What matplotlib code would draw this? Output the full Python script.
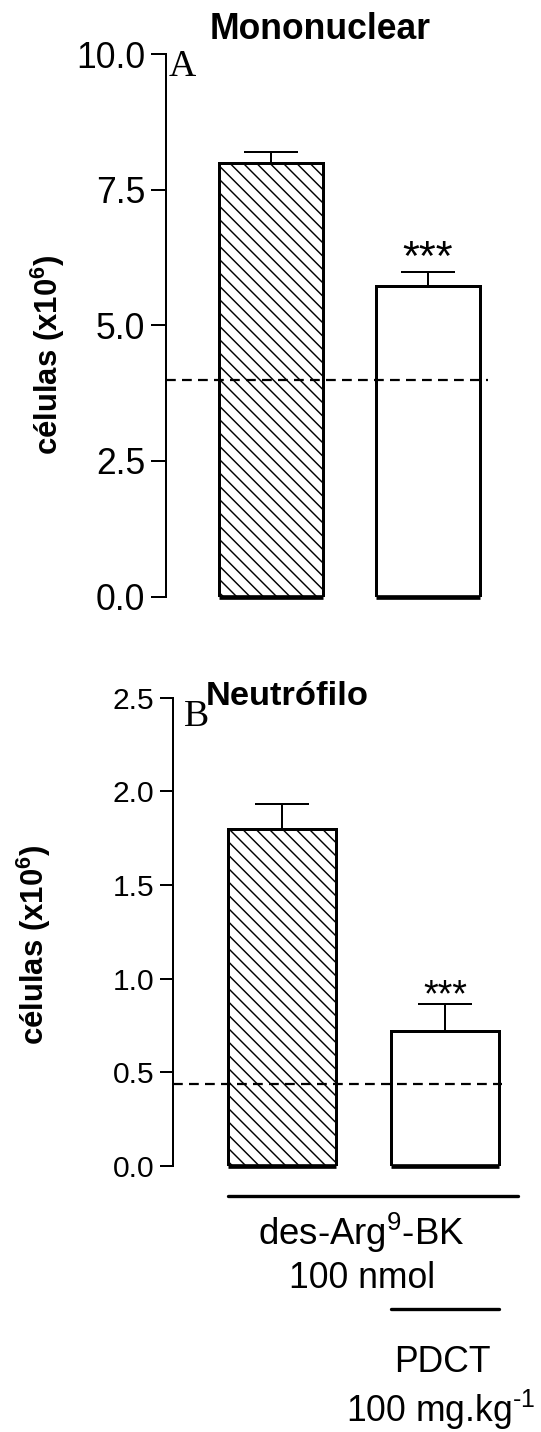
import matplotlib
matplotlib.use('Agg')
import matplotlib.pyplot as plt
import numpy as np

## Data
groups = ["des-Arg9-BK", "des-Arg9-BK + PDCT"]
mono_mean = [8.0, 5.72]
mono_sem = [0.20, 0.26]
mono_basal = 4.0
neut_mean = [1.80, 0.72]
neut_sem = [0.135, 0.145]
neut_basal = 0.44
mono_ticks = [0.0, 2.5, 5.0, 7.5, 10.0]
neut_ticks = [0.0, 0.5, 1.0, 1.5, 2.0, 2.5]
signif = ["", "***"]

## Settings
W, H, DPI = 541, 1432, 80
plt.rcParams['font.family'] = ['Liberation Sans', 'DejaVu Sans']
plt.rcParams['mathtext.fontset'] = 'custom'
plt.rcParams['mathtext.rm'] = 'Liberation Sans'
plt.rcParams['mathtext.bf'] = 'Liberation Sans:bold'
plt.rcParams['mathtext.it'] = 'Liberation Sans:italic'
plt.rcParams['hatch.linewidth'] = 1.3


def fx(px):
    return px / W


def fy(py):
    return 1 - py / H


fig = plt.figure(figsize=(W / DPI, H / DPI), dpi=DPI)

xpos = np.arange(len(groups))
bar_w = 0.66
hatches = ['\\\\', '']


def draw_panel(ax, means, sems, basal, ticks, ylim, xlim, basal_end, tick_fs, tick_len, star_fs, star_off):
    for i in range(len(groups)):
        ax.bar(xpos[i], means[i], width=bar_w, color='white', edgecolor='black',
               linewidth=2.7, hatch=hatches[i], zorder=2)
    # thicker bottom edge of the bars
    ax.hlines(np.zeros(len(xpos)), xpos - bar_w / 2, xpos + bar_w / 2, colors='black',
              linewidth=4.2, zorder=4, clip_on=False)
    ax.errorbar(xpos, means, yerr=[np.zeros(len(means)), sems], fmt='none',
                ecolor='black', elinewidth=1.8, capsize=24, capthick=1.8, zorder=1)
    ax.hlines(basal, xlim[0], basal_end, colors='black', linestyles=(0, (4.4, 2.8)),
              linewidth=2.0, zorder=3)
    for i, s in enumerate(signif):
        if s:
            ax.annotate(s, xy=(xpos[i], means[i] + sems[i]), xytext=(0, star_off),
                        textcoords='offset points', ha='center', va='baseline',
                        fontsize=star_fs)
    ax.set_xlim(*xlim)
    ax.set_ylim(*ylim)
    ax.set_yticks(ticks)
    ax.set_yticklabels([f"{t:.1f}" for t in ticks])
    ax.set_xticks([])
    for sp in ['top', 'right', 'bottom']:
        ax.spines[sp].set_visible(False)
    ax.spines['left'].set_linewidth(1.8)
    ax.tick_params(axis='y', length=tick_len, width=1.8, pad=5, labelsize=tick_fs)
    ax.patch.set_visible(False)


## Panel A - Mononuclear
ax1 = fig.add_axes([fx(166), fy(596.5), fx(500 - 166), (596.5 - 54) / H])
draw_panel(ax1, mono_mean, mono_sem, mono_basal, mono_ticks, (0, 10.0),
           (-0.668, 1.458), 1.38, 32, 13.5, 39, 1.7)

## Panel B - Neutrofilo
ax2 = fig.add_axes([fx(172.7), fy(1166), fx(518 - 172.7), (1166 - 697.7) / H])
draw_panel(ax2, neut_mean, neut_sem, neut_basal, neut_ticks, (0, 2.5),
           (-0.668, 1.444), 1.348, 27, 11.4, 34, -2.0)

# Treatment lines under panel B
ax2.plot([xpos[0] - bar_w / 2, 1.444], [-0.159, -0.159], color='black',
         linewidth=3.0, clip_on=False, solid_capstyle='round')
ax2.plot([xpos[1] - bar_w / 2, xpos[1] + bar_w / 2], [-0.765, -0.765], color='black',
         linewidth=3.0, clip_on=False, solid_capstyle='round')

## Titles, panel letters, axis labels
fig.text(fx(320.5), fy(39.3), "Mononuclear", ha='center', va='baseline',
         fontsize=32, fontweight='bold')
fig.text(fx(287), fy(705), "Neutrófilo", ha='center', va='baseline',
         fontsize=31, fontweight='bold')
fig.text(fx(182), fy(76), "A", ha='center', va='baseline', fontsize=34,
         family=['Liberation Serif', 'DejaVu Serif'])
fig.text(fx(197), fy(726), "B", ha='center', va='baseline', fontsize=34,
         family=['Liberation Serif', 'DejaVu Serif'])

ylab = r"células (x10$^{\mathbf{6}}$)"
fig.text(fx(47.5), fy(355), ylab, rotation=90, ha='center', va='center',
         fontsize=28, fontweight='bold')
fig.text(fx(34), fy(945), ylab, rotation=90, ha='center', va='center',
         fontsize=28, fontweight='bold')

fig.text(fx(361), fy(1245), r"des-Arg$^{9}$-BK", ha='center', va='baseline', fontsize=33)
fig.text(fx(362.5), fy(1287.7), "100 nmol", ha='center', va='baseline', fontsize=32)
fig.text(fx(442.5), fy(1371.7), "PDCT", ha='center', va='baseline', fontsize=32)
fig.text(fx(441), fy(1421.7), "100 mg.kg$^{\\mathrm{‐1}}$", ha='center', va='baseline',
         fontsize=32)

plt.savefig("out.png", dpi=DPI)
